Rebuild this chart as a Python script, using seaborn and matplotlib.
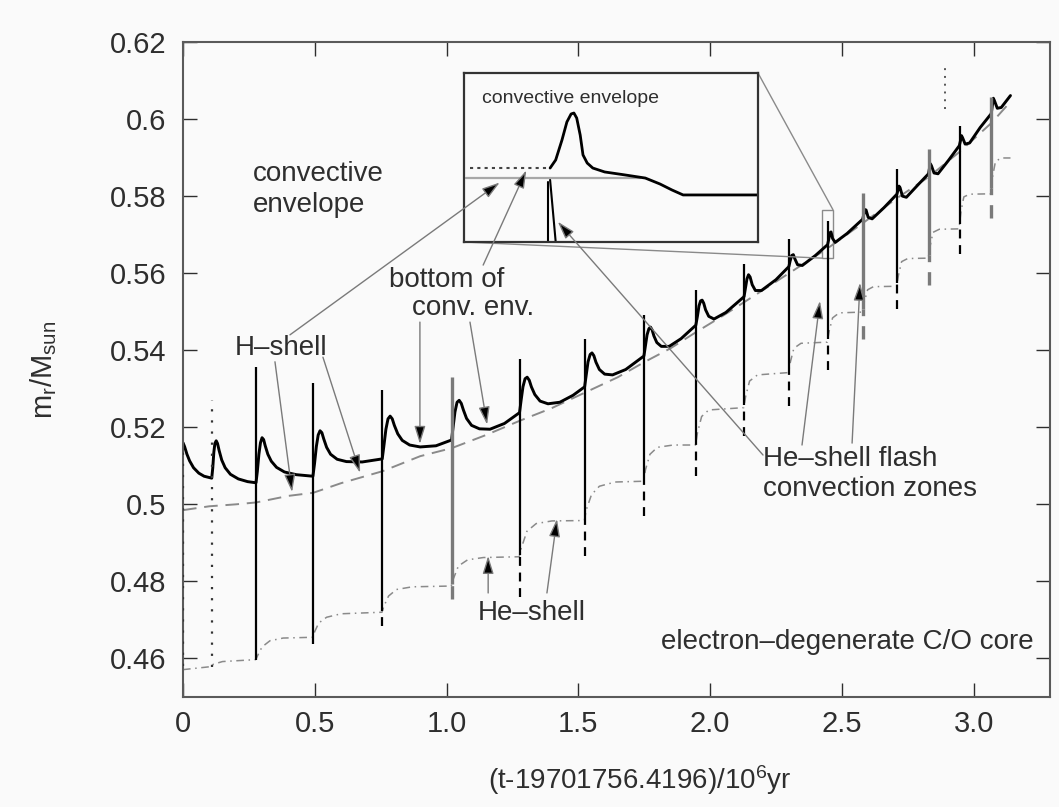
import matplotlib
matplotlib.use("Agg")
import matplotlib.pyplot as plt
from mpl_toolkits.axes_grid1.inset_locator import mark_inset
import numpy as np
import seaborn as sns

# ---------------------------------------------------------------- data
# thermal-pulse epochs (10^6 yr after t0) and extent of each He-flash convection zone
pulse_t = [0.000, 0.110, 0.278, 0.494, 0.757, 1.020, 1.278, 1.525, 1.750,
           1.947, 2.130, 2.300, 2.447, 2.580, 2.710, 2.830, 2.947, 3.068]
flash_top = [0.5155, 0.5272, 0.5356, 0.5316, 0.5298, 0.5330, 0.5377, 0.5429, 0.5491,
             0.5557, 0.5625, 0.5690, 0.5735, 0.5808, 0.5871, 0.5923, 0.5983, 0.6056]
flash_bottom = [0.4580, 0.4579, 0.4597, 0.4637, 0.4684, 0.4755, 0.4760, 0.4867, 0.4971,
                0.5073, 0.5178, 0.5256, 0.5348, 0.5429, 0.5507, 0.5570, 0.5650, 0.5742]

# short isolated convective episode near the end
extra_t = [2.890]
extra_bottom = [0.6027]
extra_top = [0.6132]

# bottom of the convective envelope (one row per interpulse)
env_t = [0.000, 0.006, 0.015, 0.025, 0.040, 0.060, 0.080, 0.109,
         0.113, 0.117, 0.121, 0.126, 0.131, 0.137, 0.147, 0.160, 0.180, 0.210, 0.245, 0.277,
         0.282, 0.288, 0.294, 0.300, 0.306, 0.312, 0.322, 0.335, 0.355, 0.385, 0.430, 0.493,
         0.499, 0.506, 0.513, 0.520, 0.527, 0.534, 0.545, 0.560, 0.585, 0.620, 0.680, 0.756,
         0.762, 0.770, 0.778, 0.786, 0.794, 0.802, 0.815, 0.832, 0.860, 0.900, 0.960, 1.019,
         1.025, 1.032, 1.040, 1.048, 1.056, 1.064, 1.076, 1.095, 1.125, 1.165, 1.220, 1.277,
         1.283, 1.290, 1.298, 1.306, 1.314, 1.322, 1.335, 1.355, 1.385, 1.430, 1.480, 1.524,
         1.530, 1.537, 1.545, 1.552, 1.559, 1.567, 1.580, 1.600, 1.630, 1.680, 1.749,
         1.755, 1.761, 1.768, 1.774, 1.780, 1.787, 1.798, 1.815, 1.845, 1.890, 1.946,
         1.952, 1.958, 1.964, 1.970, 1.976, 1.983, 1.995, 2.015, 2.060, 2.129,
         2.134, 2.140, 2.146, 2.152, 2.160, 2.172, 2.195, 2.250, 2.299,
         2.304, 2.310, 2.316, 2.322, 2.332, 2.350, 2.400, 2.446,
         2.451, 2.455, 2.459, 2.465, 2.475, 2.520, 2.579,
         2.584, 2.588, 2.592, 2.600, 2.615, 2.660, 2.709,
         2.713, 2.717, 2.721, 2.730, 2.745, 2.790, 2.829,
         2.832, 2.836, 2.840, 2.850, 2.865, 2.905, 2.946,
         2.950, 2.954, 2.958, 2.968, 2.985, 3.025, 3.067,
         3.071, 3.075, 3.079, 3.090, 3.105, 3.140]
env_m = [0.5160, 0.5150, 0.5130, 0.5113, 0.5095, 0.5081, 0.5073, 0.5068,
         0.5095, 0.5135, 0.5158, 0.5165, 0.5158, 0.5140, 0.5115, 0.5095, 0.5078, 0.5066, 0.5059, 0.5056,
         0.5085, 0.5130, 0.5160, 0.5173, 0.5168, 0.5152, 0.5130, 0.5112, 0.5096, 0.5084, 0.5077, 0.5073,
         0.5105, 0.5150, 0.5180, 0.5191, 0.5186, 0.5170, 0.5148, 0.5130, 0.5117, 0.5111, 0.5110, 0.5118,
         0.5150, 0.5195, 0.5222, 0.5229, 0.5222, 0.5205, 0.5183, 0.5166, 0.5154, 0.5149, 0.5152, 0.5167,
         0.5200, 0.5240, 0.5265, 0.5270, 0.5262, 0.5245, 0.5223, 0.5205, 0.5196, 0.5195, 0.5210, 0.5238,
         0.5270, 0.5305, 0.5326, 0.5330, 0.5322, 0.5305, 0.5285, 0.5268, 0.5261, 0.5265, 0.5283, 0.5305,
         0.5335, 0.5370, 0.5389, 0.5393, 0.5386, 0.5369, 0.5350, 0.5338, 0.5336, 0.5350, 0.5385,
         0.5412, 0.5440, 0.5456, 0.5460, 0.5453, 0.5437, 0.5420, 0.5410, 0.5410, 0.5430, 0.5465,
         0.5488, 0.5515, 0.5528, 0.5530, 0.5522, 0.5505, 0.5488, 0.5481, 0.5498, 0.5539,
         0.5560, 0.5585, 0.5596, 0.5590, 0.5570, 0.5555, 0.5555, 0.5583, 0.5617,
         0.5632, 0.5646, 0.5648, 0.5637, 0.5622, 0.5620, 0.5646, 0.5674,
         0.5690, 0.5705, 0.5707, 0.5690, 0.5680, 0.5703, 0.5740,
         0.5754, 0.5765, 0.5764, 0.5745, 0.5741, 0.5770, 0.5805,
         0.5816, 0.5826, 0.5822, 0.5800, 0.5797, 0.5830, 0.5858,
         0.5870, 0.5884, 0.5879, 0.5860, 0.5858, 0.5893, 0.5931,
         0.5943, 0.5957, 0.5952, 0.5935, 0.5938, 0.5978, 0.6014,
         0.6033, 0.6054, 0.6048, 0.6028, 0.6030, 0.6061]

# hydrogen-burning shell
hshell_t = [0.000, 0.100, 0.200, 0.278, 0.400, 0.494, 0.600, 0.757, 0.900, 1.020,
            1.150, 1.278, 1.400, 1.525, 1.650, 1.750, 1.850, 1.947, 2.050, 2.130,
            2.300, 2.447, 2.580, 2.710, 2.830, 2.947, 3.068, 3.140]
hshell_m = [0.4985, 0.4995, 0.5000, 0.5005, 0.5022, 0.5030, 0.5055, 0.5086, 0.5125, 0.5146,
            0.5180, 0.5217, 0.5250, 0.5290, 0.5330, 0.5369, 0.5405, 0.5447, 0.5490, 0.5525,
            0.5600, 0.5665, 0.5730, 0.5795, 0.5850, 0.5915, 0.5990, 0.6045]

# helium-burning shell
heshell_t = [0.000, 0.108, 0.115, 0.150, 0.276,
             0.285, 0.300, 0.330, 0.380, 0.492,
             0.500, 0.515, 0.545, 0.600, 0.755,
             0.762, 0.780, 0.810, 0.870, 1.018,
             1.025, 1.045, 1.080, 1.140, 1.276,
             1.283, 1.305, 1.340, 1.400, 1.523,
             1.530, 1.550, 1.580, 1.640, 1.748,
             1.755, 1.772, 1.800, 1.860, 1.945,
             1.952, 1.968, 1.995, 2.128,
             2.135, 2.150, 2.180, 2.298,
             2.305, 2.318, 2.345, 2.445,
             2.452, 2.465, 2.490, 2.578,
             2.585, 2.598, 2.620, 2.708,
             2.715, 2.727, 2.750, 2.828,
             2.835, 2.846, 2.870, 2.945,
             2.952, 2.963, 2.985, 3.066,
             3.072, 3.083, 3.105, 3.140]
heshell_m = [0.4571, 0.4579, 0.4585, 0.4592, 0.4597,
             0.4610, 0.4630, 0.4646, 0.4653, 0.4655,
             0.4670, 0.4692, 0.4707, 0.4716, 0.4720,
             0.4735, 0.4762, 0.4779, 0.4786, 0.4788,
             0.4805, 0.4840, 0.4856, 0.4862, 0.4864,
             0.4885, 0.4930, 0.4950, 0.4957, 0.4958,
             0.4985, 0.5025, 0.5047, 0.5058, 0.5060,
             0.5090, 0.5130, 0.5148, 0.5154, 0.5154,
             0.5185, 0.5228, 0.5245, 0.5251,
             0.5280, 0.5320, 0.5336, 0.5342,
             0.5370, 0.5405, 0.5418, 0.5421,
             0.5450, 0.5484, 0.5497, 0.5499,
             0.5525, 0.5557, 0.5565, 0.5566,
             0.5595, 0.5630, 0.5638, 0.5639,
             0.5670, 0.5706, 0.5714, 0.5715,
             0.5760, 0.5798, 0.5805, 0.5806,
             0.5850, 0.5890, 0.5899, 0.5899]

# close-up of the pulse at t = 2.447
zoom_env_t = [2.4373, 2.4381, 2.4390, 2.4397, 2.4403, 2.4407, 2.4411, 2.4416, 2.4420,
              2.4426, 2.4434, 2.4451, 2.4480, 2.4509, 2.4530, 2.4547, 2.4563, 2.4669]
zoom_env_m = [0.56937, 0.56997, 0.57145, 0.57278, 0.57337, 0.57344, 0.57307, 0.57181, 0.57034,
              0.56974, 0.56937, 0.56908, 0.56886, 0.56863, 0.56819, 0.56775, 0.56738, 0.56738]
zoom_pre_t = [2.4259, 2.4373]
zoom_pre_m = [0.56937, 0.56937]
zoom_hshell_t = [2.4253, 2.4501]
zoom_hshell_m = [0.56863, 0.56863]
zoom_flash_t = [[2.4370, 2.4370], [2.4373, 2.4381]]
zoom_flash_m = [[0.56834, 0.5639], [0.56849, 0.5639]]

x_ticks = [0.0, 0.5, 1.0, 1.5, 2.0, 2.5, 3.0]
x_tick_labels = ["0", "0.5", "1.0", "1.5", "2.0", "2.5", "3.0"]
y_ticks = [0.46, 0.48, 0.50, 0.52, 0.54, 0.56, 0.58, 0.60, 0.62]
y_tick_labels = ["0.46", "0.48", "0.5", "0.52", "0.54", "0.56", "0.58", "0.6", "0.62"]

# ---------------------------------------------------------------- style
sns.set_theme(style="ticks")
plt.rcParams["font.family"] = ["Liberation Sans", "DejaVu Sans"]
plt.rcParams["mathtext.fontset"] = "custom"
plt.rcParams["mathtext.rm"] = "Liberation Sans"
plt.rcParams["mathtext.it"] = "Liberation Sans"
plt.rcParams["mathtext.bf"] = "Liberation Sans:bold"

BG = "#fafafa"
INK = "#2e2e2e"
W, H = 1059, 807

fig = plt.figure(figsize=(W / 100, H / 100), dpi=100, facecolor=BG)

ax = fig.add_axes([183 / W, 1 - 697 / H, (1050 - 183) / W, (697 - 42) / H])
ax.set_facecolor(BG)

# shells and envelope
sns.lineplot(x=heshell_t, y=heshell_m, ax=ax, color="#8a8a8a", lw=1.1,
             linestyle=(0, (5, 3, 1, 3)), estimator=None, sort=False)
sns.lineplot(x=hshell_t, y=hshell_m, ax=ax, color="#8a8a8a", lw=1.4,
             linestyle=(0, (7, 4)), estimator=None, sort=False)
sns.lineplot(x=env_t, y=env_m, ax=ax, color="black", lw=2.1,
             estimator=None, sort=False)

# He-flash convection zones: solid above the He shell, dashed below it
gray_pulses = {1.020, 2.580, 2.830, 3.068}
dotted_pulses = {0.000, 0.110}
for t, top, bot in zip(pulse_t, flash_top, flash_bottom):
    if t in dotted_pulses:
        ax.vlines(t, bot, top, colors="#333333", linestyles=(0, (1, 4)), lw=1.6, zorder=3)
        continue
    col = "#7a7a7a" if t in gray_pulses else "black"
    lw = 2.4 if t in gray_pulses else 1.6
    split = float(np.interp(t - 1e-4, heshell_t, heshell_m))
    ax.vlines(t, split, top, colors=col, lw=lw, zorder=3)
    ax.vlines(t, bot, split, colors=col, lw=lw, linestyles=(0, (4, 3)), zorder=3)
ax.vlines(extra_t, extra_bottom, extra_top, colors="#555555",
          linestyles=(0, (1, 3)), lw=1.4, zorder=3)

ax.set_xlim(0, 3.29)
ax.set_ylim(0.45, 0.62)
ax.set_xticks(x_ticks)
ax.set_xticklabels(x_tick_labels)
ax.set_yticks(y_ticks)
ax.set_yticklabels(y_tick_labels)
ax.tick_params(axis="both", which="both", direction="in", length=10, width=1.0,
               color=INK, labelcolor=INK, labelsize=21, top=True, right=True)
ax.tick_params(axis="x", pad=9)
ax.tick_params(axis="y", pad=12)
for s in ax.spines.values():
    s.set_color("#5a5a5a")
    s.set_linewidth(1.5)

ax.set_xlabel("(t-19701756.4196)/10$^{6}$yr", fontsize=20, color=INK)
ax.xaxis.set_label_coords(0.527, -0.127)
ax.xaxis.label.set_va("center")
ax.set_ylabel(r"$\mathrm{m_r/M_{sun}}$", fontsize=21, color=INK)
ax.yaxis.set_label_coords(-0.161, 0.5)
ax.yaxis.label.set_va("center")

# ---------------------------------------------------------------- inset
axins = fig.add_axes([464 / W, 1 - 242 / H, (758 - 464) / W, (242 - 73) / H])
axins.set_facecolor(BG)
sns.lineplot(x=zoom_hshell_t, y=zoom_hshell_m, ax=axins, color="#a8a8a8", lw=1.6,
             estimator=None, sort=False)
sns.lineplot(x=zoom_pre_t, y=zoom_pre_m, ax=axins, color="#444444", lw=1.5,
             linestyle=(0, (1.5, 2)), estimator=None, sort=False)
sns.lineplot(x=zoom_env_t, y=zoom_env_m, ax=axins, color="black", lw=2.0,
             estimator=None, sort=False)
for ft, fm in zip(zoom_flash_t, zoom_flash_m):
    sns.lineplot(x=ft, y=fm, ax=axins, color="black", lw=1.5, estimator=None, sort=False)
axins.set_xlim(2.425, 2.467)
axins.set_ylim(0.5639, 0.5764)
axins.set_xticks([])
axins.set_yticks([])
axins.set_xlabel("")
axins.set_ylabel("")
for s in axins.spines.values():
    s.set_color("#333333")
    s.set_linewidth(1.6)
axins.text(0.061, 0.852, "convective envelope", transform=axins.transAxes,
           fontsize=14, color=INK, ha="left", va="center")
mark_inset(ax, axins, loc1=1, loc2=3, fc="none", ec="#8a8a8a", lw=1.0)

# ---------------------------------------------------------------- labels
txt = dict(fontsize=20, color=INK)
ax.text(0.266, 0.5818, "convective\nenvelope", ha="left", va="center",
        linespacing=1.25, **txt)
ax.text(0.197, 0.5406, "H–shell", ha="left", va="center", **txt)
ax.text(1.002, 0.5582, "bottom of", ha="center", va="center", **txt)
ax.text(1.101, 0.5510, "conv. env.", ha="center", va="center", **txt)
ax.text(2.201, 0.5080, "He–shell flash\nconvection zones", ha="left", va="center",
        linespacing=1.2, **txt)
ax.text(1.323, 0.4718, "He–shell", ha="center", va="center", **txt)
ax.text(3.226, 0.4643, "electron–degenerate C/O core", ha="right", va="center", **txt)

arrow_style = dict(arrowstyle="-|>,head_length=0.9,head_width=0.28",
                   mutation_scale=12, ec="#7a7a7a", fc="black", lw=1.0,
                   shrinkA=0, shrinkB=0)


def arrow(target_ax, tail, tip):
    target_ax.annotate("", xy=tip, xycoords="data", xytext=tail,
                       textcoords=ax.transData, arrowprops=arrow_style)


# arrows pointing into the main panel
arrow(ax, (0.349, 0.5370), (0.414, 0.5032))
arrow(ax, (0.531, 0.5382), (0.672, 0.5082))
arrow(ax, (0.899, 0.5473), (0.899, 0.5157))
arrow(ax, (1.089, 0.5473), (1.154, 0.5207))
arrow(ax, (2.349, 0.5154), (2.417, 0.5528))
arrow(ax, (2.539, 0.5159), (2.569, 0.5575))
arrow(ax, (1.158, 0.4770), (1.158, 0.4866))
arrow(ax, (1.381, 0.4770), (1.419, 0.4962))
# arrows pointing into the close-up
arrow(axins, (0.406, 0.5440), (2.4301, 0.5683))
arrow(axins, (1.139, 0.5621), (2.4339, 0.5692))
arrow(axins, (2.201, 0.5128), (2.4384, 0.5654))

fig.savefig("out.png", dpi=100, facecolor=BG)
